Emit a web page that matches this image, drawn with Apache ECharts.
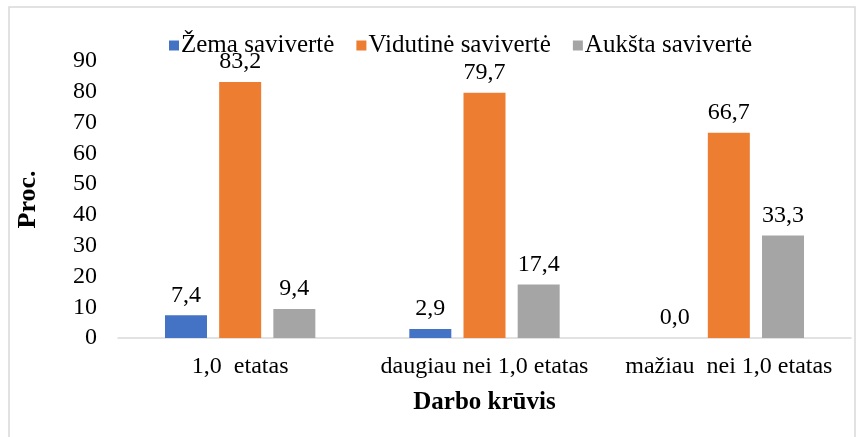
<!DOCTYPE html>
<html>
<head>
<meta charset="utf-8">
<script src="https://cdn.jsdelivr.net/npm/echarts@6/dist/echarts.min.js"></script>
<style>
  html, body { margin: 0; padding: 0; background: #fff; }
  #chart { width: 863px; height: 437px; }
</style>
</head>
<body>
<div id="chart"></div>
<script>
const categories = ['1,0  etatas', 'daugiau nei 1,0 etatas', 'mažiau  nei 1,0 etatas'];
const seriesNames = ['Žema savivertė', 'Vidutinė savivertė', 'Aukšta savivertė'];
const zema = [7.4, 2.9, 0.0];
const vidutine = [83.2, 79.7, 66.7];
const auksta = [9.4, 17.4, 33.3];
const colors = ['#4472C4', '#ED7D31', '#A5A5A5'];

const font = 'Liberation Serif';
const fs = 24;
const fmt = (p) => p.value.toFixed(1).replace('.', ',');

const chart = echarts.init(document.getElementById('chart'));

const mkSeries = (name, data, i) => ({
  name: name,
  type: 'bar',
  data: data,
  barWidth: 42,
  barGap: '29%',
  itemStyle: { color: colors[i] },
  label: {
    show: true,
    position: 'top',
    distance: 8,
    formatter: fmt,
    color: '#000',
    fontFamily: font,
    fontSize: fs
  }
});

chart.setOption({
  animation: false,
  textStyle: { fontFamily: font },
  graphic: [{
    type: 'rect',
    shape: { x: 9, y: 7, width: 846, height: 440 },
    style: { fill: 'none', stroke: '#d9d9d9', lineWidth: 1.5 },
    silent: true
  }],
  legend: {
    top: 28,
    left: 164,
    itemWidth: 10,
    itemHeight: 10,
    itemGap: 22,
    icon: 'rect',
    textStyle: { fontFamily: font, fontSize: 25, color: '#000', padding: [0, 0, 0, -3] },
    data: seriesNames
  },
  grid: { left: 118, right: 12, top: 61, bottom: 99 },
  xAxis: {
    type: 'category',
    data: categories,
    axisLine: { lineStyle: { color: '#d9d9d9', width: 1.5 } },
    axisTick: { show: false },
    axisLabel: { color: '#000', fontFamily: font, fontSize: fs, margin: 17, interval: 0, hideOverlap: false },
    name: 'Darbo krūvis',
    nameLocation: 'middle',
    nameGap: 52,
    nameTextStyle: { color: '#000', fontFamily: font, fontSize: 25, fontWeight: 'bold' }
  },
  yAxis: {
    type: 'value',
    min: 0,
    max: 90,
    interval: 10,
    axisLine: { show: false },
    axisTick: { show: false },
    splitLine: { show: false },
    axisLabel: { color: '#000', fontFamily: font, fontSize: fs, margin: 21 },
    name: 'Proc.',
    nameLocation: 'middle',
    nameGap: 77,
    nameTextStyle: { color: '#000', fontFamily: font, fontSize: 26, fontWeight: 'bold' }
  },
  series: [
    mkSeries(seriesNames[0], zema, 0),
    mkSeries(seriesNames[1], vidutine, 1),
    mkSeries(seriesNames[2], auksta, 2)
  ]
});
</script>
</body>
</html>
